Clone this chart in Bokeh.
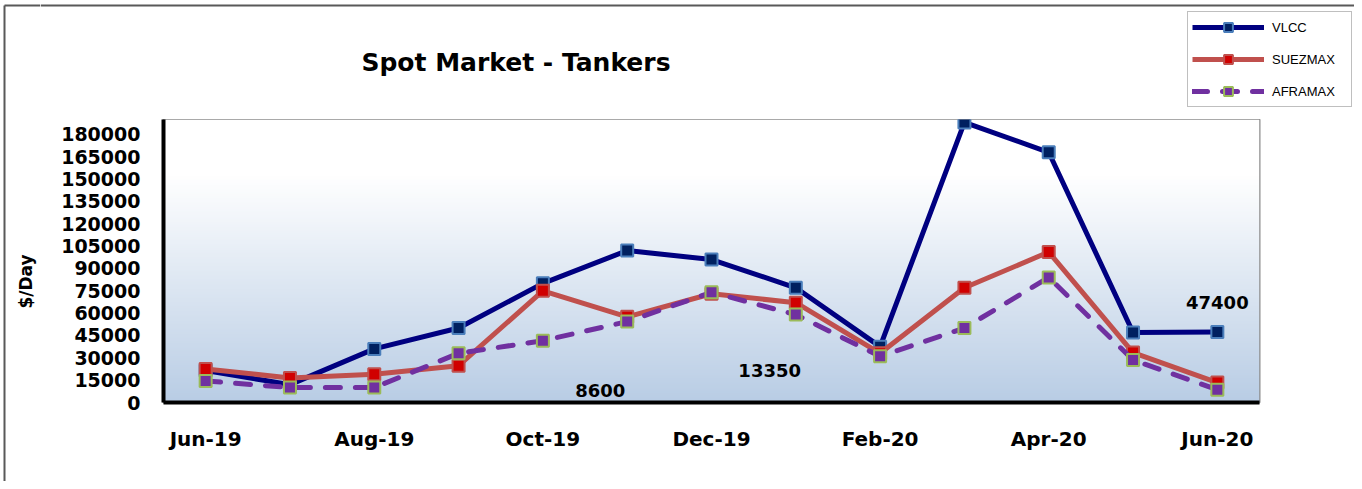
import numpy as np
from bokeh.plotting import figure
from bokeh.layouts import column, row
from bokeh.models import (Range1d, FixedTicker, Label, Legend, LegendItem,
                          NumeralTickFormatter)
from bokeh.core.properties import value
from bokeh.embed import file_html
from bokeh.resources import INLINE

# ---------------- data ----------------
months = ["Jun-19", "Jul-19", "Aug-19", "Sep-19", "Oct-19", "Nov-19", "Dec-19",
          "Jan-20", "Feb-20", "Mar-20", "Apr-20", "May-20", "Jun-20"]
vlcc = [21500, 12000, 36000, 50000, 80000, 102000, 96000, 77000, 37500, 188000, 168000, 47000, 47400]
suezmax = [22500, 16500, 19000, 24700, 75000, 57500, 73000, 67000, 33000, 77000, 101000, 33500, 13350]
aframax = [14500, 10000, 10000, 33000, 41500, 54300, 74000, 59000, 31000, 50000, 84000, 28500, 8600]
y_ticks = list(range(0, 180001, 15000))
shown_months = ["Jun-19", "Aug-19", "Oct-19", "Dec-19", "Feb-20", "Apr-20", "Jun-20"]
title_text = "Spot Market - Tankers"
y_label = "$/Day"

FONT = "DejaVu Sans"
FRAME_COL = "#595959"

# category positions on a numeric axis (one unit per month, centred)
xs = [i + 0.5 for i in range(len(months))]

TOTAL_W, TOTAL_H, TOP_H, LEFT_W = 1354, 481, 119, 40
MAIN_W, MAIN_H = TOTAL_W - LEFT_W, TOTAL_H - TOP_H

def bare(fig):
    fig.xaxis.visible = False
    fig.yaxis.visible = False
    fig.grid.visible = False
    fig.outline_line_color = None
    fig.background_fill_color = "white"
    fig.border_fill_color = "white"
    return fig

# ---------------- main plot ----------------
p = figure(width=MAIN_W, height=MAIN_H, x_range=Range1d(0, len(months)),
           y_range=Range1d(0, 190000), output_backend="svg", toolbar_location=None,
           min_border_left=123, min_border_right=95, min_border_top=0, min_border_bottom=79)

# background gradient inside plot area
N = 240
img = np.zeros((N, 1), dtype=np.uint32)
view = img.view(dtype=np.uint8).reshape((N, 1, 4))
for i in range(N):
    f = i / (N - 1)
    t = min(1.0, f / 0.8)
    view[i, 0, 0] = int(185 + (255 - 185) * t)
    view[i, 0, 1] = int(205 + (255 - 205) * t)
    view[i, 0, 2] = int(229 + (255 - 229) * t)
    view[i, 0, 3] = 255
p.image_rgba(image=[img], x=0, y=0, dw=len(months), dh=190000)

p.xgrid.grid_line_color = None
p.ygrid.grid_line_color = "#8c8c8c"
p.ygrid.grid_line_width = 2
p.yaxis.ticker = FixedTicker(ticks=y_ticks)
p.yaxis.formatter = NumeralTickFormatter(format="0")
p.xaxis.ticker = FixedTicker(ticks=[xs[months.index(m)] for m in shown_months])
p.xaxis.major_label_overrides = {xs[months.index(m)]: m for m in shown_months}
p.outline_line_color = "#8c8c8c"
p.outline_line_width = 2

for ax in (p.xaxis[0], p.yaxis[0]):
    ax.axis_line_color = "black"
    ax.axis_line_width = 4
    ax.major_tick_line_color = None
    ax.minor_tick_line_color = None
    ax.major_tick_out = 0
    ax.major_tick_in = 0
    ax.major_label_text_font = FONT
    ax.major_label_text_font_style = "bold"
    ax.major_label_text_font_size = "19px"
    ax.major_label_text_color = "black"
p.yaxis.major_label_standoff = 23
p.xaxis.major_label_standoff = 24
p.xaxis.major_label_text_font_size = "20px"

VLCC_STYLE = dict(line_color="#000080", line_width=5, line_join="round")
VLCC_MK = dict(marker="square", size=12, fill_color="#002060", line_color="#4a7ebb", line_width=2)
SUEZ_STYLE = dict(line_color="#c0504d", line_width=5, line_join="round")
SUEZ_MK = dict(marker="square", size=12, fill_color="#d00000", line_color="#c0504d", line_width=2)
AFRA_STYLE = dict(line_color="#7030a0", line_width=5, line_dash="15 15", line_cap="round", line_join="round")
AFRA_MK = dict(marker="square", size=12, fill_color="#7030a0", line_color="#9bbb59", line_width=2)

p.line(xs, vlcc, **VLCC_STYLE)
p.scatter(xs, vlcc, **VLCC_MK)
p.line(xs, suezmax, **SUEZ_STYLE)
p.scatter(xs, suezmax, **SUEZ_MK)
p.line(xs, aframax, **AFRA_STYLE)
p.scatter(xs, aframax, **AFRA_MK)

# data labels
lbl = dict(text_align="center", text_baseline="middle", text_font=FONT,
           text_font_style="bold", text_font_size="18px", text_color="black")
p.add_layout(Label(x=xs[-1], y=vlcc[-1], y_offset=29, text=str(vlcc[-1]), **lbl))
p.add_layout(Label(x=5.18, y=7900, text=str(aframax[-1]), **lbl))
p.add_layout(Label(x=7.19, y=21300, text=str(suezmax[-1]), **lbl))

# ---------------- top strip: title + legend ----------------
top = bare(figure(width=MAIN_W, height=TOP_H, x_range=Range1d(0, MAIN_W),
                  y_range=Range1d(TOP_H, 0), output_backend="svg", toolbar_location=None,
                  min_border=0))
top.line([0, MAIN_W], [5, 5], line_color=FRAME_COL, line_width=2)
top.text(x=[515.5 - LEFT_W], y=[62], text=[title_text], text_align="center",
         text_baseline="alphabetic", text_font=value(FONT), text_font_style="bold",
         text_font_size="25px", text_color="black")

# legend proxies (placed outside the visible range; only shown in the legend)
px_, py_ = [-100, -90], [-100, -100]
r1 = top.line(px_, py_, **VLCC_STYLE)
m1 = top.scatter(px_, py_, **VLCC_MK)
r2 = top.line(px_, py_, **SUEZ_STYLE)
m2 = top.scatter(px_, py_, **SUEZ_MK)
r3 = top.line(px_, py_, **AFRA_STYLE)
m3 = top.scatter(px_, py_, **AFRA_MK)
legend = Legend(items=[LegendItem(label="VLCC", renderers=[r1, m1]),
                       LegendItem(label="SUEZMAX", renderers=[r2, m2]),
                       LegendItem(label="AFRAMAX", renderers=[r3, m3])],
                location=(1187 - LEFT_W, TOP_H - 107))
legend.label_text_font = "Liberation Sans"
legend.label_text_font_size = "13px"
legend.label_text_color = "black"
legend.border_line_color = "#7f7f7f"
legend.border_line_width = 1
legend.background_fill_color = "white"
legend.background_fill_alpha = 1
legend.padding = 4
legend.spacing = 10
legend.glyph_height = 22
legend.glyph_width = 72
legend.label_height = 22
legend.label_width = 75
legend.label_standoff = 8
legend.margin = 0
top.add_layout(legend)

# ---------------- left strip: frame edge + axis title ----------------
left = bare(figure(width=LEFT_W, height=TOTAL_H, x_range=Range1d(0, LEFT_W),
                   y_range=Range1d(TOTAL_H, 0), output_backend="svg", toolbar_location=None,
                   min_border=0))
left.line([4, 4], [5, TOTAL_H], line_color=FRAME_COL, line_width=2)
left.line([4, LEFT_W], [5, 5], line_color=FRAME_COL, line_width=2)
left.text(x=[25], y=[281], text=[y_label], angle=np.pi / 2, text_align="center",
          text_baseline="middle", text_font=value(FONT), text_font_style="bold",
          text_font_size="17px", text_color="black")

layout = row(left, column(row(top), p, spacing=0), spacing=0)
open("out.html", "w").write(file_html(layout, INLINE))
